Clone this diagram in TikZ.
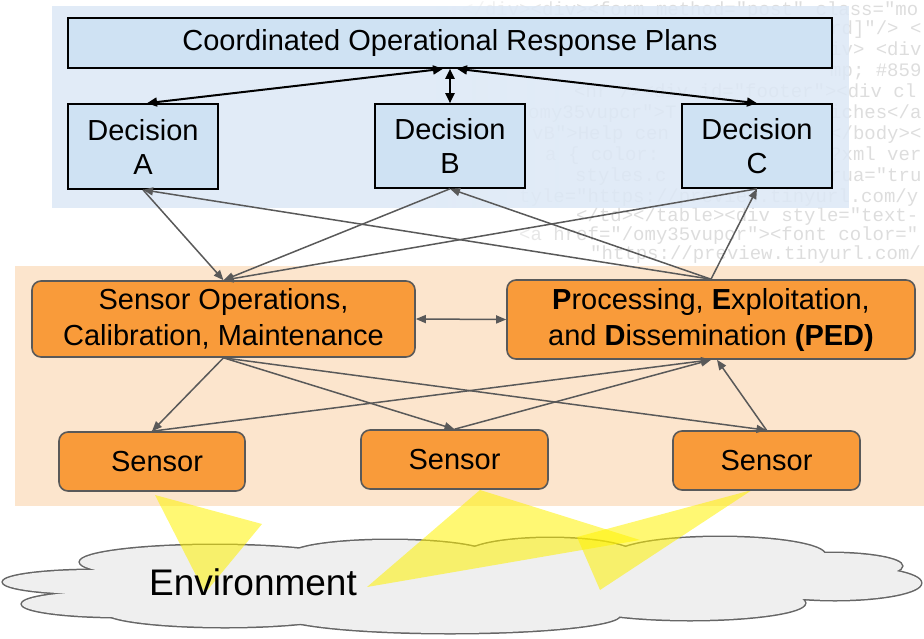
\documentclass[tikz,border=0pt]{standalone}
\usepackage{fontspec}
\setmainfont{Liberation Sans}
\newfontfamily\codefont{Liberation Mono}
\usetikzlibrary{arrows.meta,fadings}
\definecolor{bgblue}{HTML}{DCE8F6}
\definecolor{boxblue}{HTML}{CFE2F3}
\definecolor{bgorange}{HTML}{FCE5CD}
\definecolor{boxorange}{HTML}{F99B3A}
\definecolor{edgegray}{HTML}{595959}
\definecolor{cloudfill}{HTML}{EFEFEF}
\definecolor{cloudedge}{HTML}{666666}
\definecolor{codegray}{HTML}{DDDDDD}
\tikzfading[name=codefade, left color=transparent!0, right color=transparent!100]
\begin{document}
\begin{tikzpicture}[x=1pt,y=-1pt,
  bluebox/.style={draw=black, line width=1.6pt, fill=boxblue, inner sep=0pt, align=center, font=\fontsize{29}{34}\selectfont},
  orbox/.style={draw=edgegray, line width=1.6pt, fill=boxorange, rounded corners=9pt, inner sep=0pt, align=center, font=\fontsize{29}{36}\selectfont},
  blk/.style={black, line width=2pt, {Triangle[length=10pt,width=9pt]}-{Triangle[length=10pt,width=9pt]}},
  garr/.style={edgegray, line width=1.5pt, -{Triangle[length=10pt,width=8pt]}},
  gdbl/.style={edgegray, line width=1.5pt, {Triangle[length=10pt,width=8pt]}-{Triangle[length=10pt,width=8pt]}},
  codeline/.style={anchor=base west, inner sep=0pt, text=codegray, font=\codefont\fontsize{19}{19}\selectfont},
  lobe/.style={draw=cloudedge, line width=3pt},
  beam/.style={fill=yellow, fill opacity=0.55, draw=none}
]
\useasboundingbox (0,0) rectangle (924,638);

% faint code watermark (only the parts that show)
\node[codeline] (c1) at (462,15) {</div><div><form method="post" class="mo};
\node[codeline] (c2) at (830,34) {rd]"/> <};
\node[codeline] (c3) at (830,55) {iv> <div};
\node[codeline] (c4) at (830,76) {mp; \#859};
\node[codeline] (c5) at (574,97) {<hr /><div id="footer"><div cl};
\node[codeline] (c6a) at (528,118) {omy35vupcr">T};
\node[codeline] (c6b) at (830,118) {iches</a};
\node[codeline] (c7a) at (532,139) {vB">Help cen};
\node[codeline] (c7b) at (830,139) {</body><};
\node[codeline] (c8a) at (545,160) {a \{ color:};
\node[codeline] (c8b) at (830,160) {?xml ver};
\node[codeline] (c9a) at (575,181) {styles.c};
\node[codeline] (c9b) at (830,181) {rua="tru};
\node[codeline] (c10) at (519,202) {tyle="https://preview.tinyurl.com/y};
\node[codeline] (c11) at (576,221) {</td></table><div style="text-};
\node[codeline] (c12) at (519,240) {<a href="/omy35vupcr"><font color="};
\node[codeline] (c13) at (590,259) {"https://preview.tinyurl.com/};
\fill[white, path fading=codefade] (430,0) rectangle (580,266);

% background bands
\fill[bgblue, fill opacity=0.85] (52,6) rectangle (849,208);
\fill[bgorange] (15,266) rectangle (924,506);

% cloud
\foreach \cx/\cy/\rx/\ry in {95/582/92/12, 120/604/98/13, 225/612/120/15, 450/615/170/18, 690/603/115/17, 835/583/86/17, 830/566/72/13, 720/555/105/18, 550/555/85/17, 390/555/100/15, 215/562/135/17}
  \draw[lobe] (\cx,\cy) ellipse [x radius=\rx, y radius=\ry];
\foreach \cx/\cy/\rx/\ry in {95/582/92/12, 120/604/98/13, 225/612/120/15, 450/615/170/18, 690/603/115/17, 835/583/86/17, 830/566/72/13, 720/555/105/18, 550/555/85/17, 390/555/100/15, 215/562/135/17, 460/585/380/33}
  \fill[cloudfill] (\cx,\cy) ellipse [x radius=\rx, y radius=\ry];

% sensor beams
\fill[beam] (155,495) -- (262,524) -- (205,593) -- cycle;
\fill[beam] (480,490) -- (640,540) -- (367,587) -- cycle;
\fill[beam] (752,490) -- (577,537) -- (600,590) -- cycle;

\node[font=\fontsize{37}{40}\selectfont, inner sep=0pt] (env) at (253,582) {Environment};

% nodes
\node[bluebox, minimum width=764pt, minimum height=50pt] (top) at (450,43) {Coordinated Operational Response Plans};
\node[bluebox, minimum width=150pt, minimum height=85pt] (decA) at (143,146.5) {Decision\\A};
\node[bluebox, minimum width=150pt, minimum height=84pt] (decB) at (450,146) {Decision\\B};
\node[bluebox, minimum width=150pt, minimum height=84pt] (decC) at (757,146) {Decision\\C};

\node[orbox, minimum width=383pt, minimum height=76pt] (sops) at (223.5,319) {Sensor Operations,\\Calibration, Maintenance};
\node[orbox, minimum width=408pt, minimum height=79pt] (ped) at (711,319.5) {\textbf{P}rocessing, \textbf{E}xploitation,\\and \textbf{D}issemination \textbf{(PED)}};

\node[orbox, minimum width=186pt, minimum height=59pt] (s1) at (152,461.5) {\hspace*{10pt}Sensor};
\node[orbox, minimum width=187pt, minimum height=59pt] (s2) at (454.5,459.5) {Sensor};
\node[orbox, minimum width=187pt, minimum height=59pt] (s3) at (766.5,460.5) {Sensor};

% top-level connectors
\draw[blk] ([xshift=-7pt]top.south) -- ([xshift=4pt]decA.north);
\draw[blk] (top.south) -- (decB.north);
\draw[blk] ([xshift=7pt]top.south) -- (decC.north);

% decisions <-> sensor ops / PED
\draw[garr] (decA.south) -- (sops.north);
\draw[garr] (ped.north) -- (decA.south);
\draw[garr] (decB.south) -- (sops.north);
\draw[garr] (ped.north) -- (decB.south);
\draw[garr] (decC.south) -- (sops.north);
\draw[garr] (ped.north) -- (decC.south);

\draw[gdbl] (sops.east) -- (ped.west);

% sensor ops / PED <-> sensors
\draw[garr] (sops.south) -- (s1.north);
\draw[garr] (sops.south) -- (s2.north);
\draw[garr] (sops.south) -- (s3.north);
\draw[garr] (s1.north) -- (ped.south);
\draw[garr] (s2.north) -- (ped.south);
\draw[garr] (s3.north) -- ([xshift=6pt]ped.south);
\end{tikzpicture}
\end{document}
